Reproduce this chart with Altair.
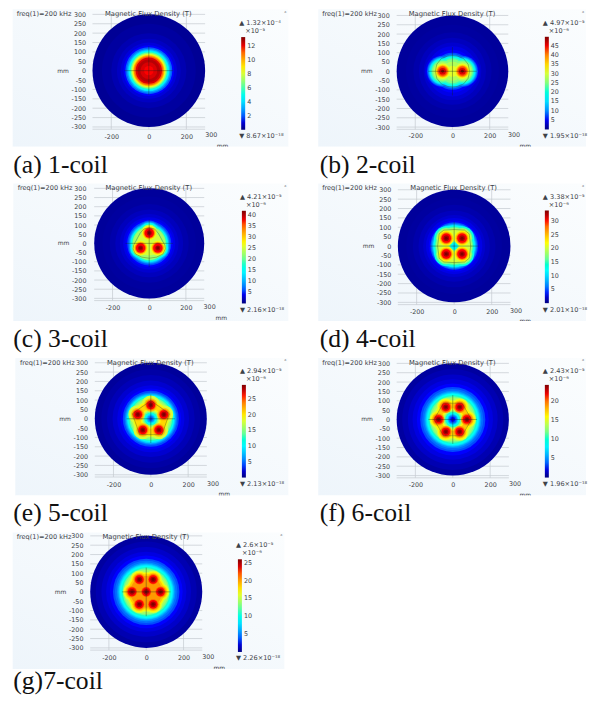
import altair as alt
import pandas as pd

# ---------- readings from the picture ----------
captions = ["(a) 1-coil", "(b) 2-coil", "(c) 3-coil", "(d) 4-coil", "(e) 5-coil", "(f) 6-coil", "(g)7-coil"]
max_vals = [13.2, 49.7, 42.1, 33.8, 29.4, 24.3, 26.0]
top_text = ["1.32×10⁻⁴", "4.97×10⁻⁵", "4.21×10⁻⁵", "3.38×10⁻⁵", "2.94×10⁻⁵", "2.43×10⁻⁵", "2.6×10⁻⁵"]
low_text = ["8.67×10⁻¹⁸", "1.95×10⁻¹⁸", "2.16×10⁻¹⁸", "2.01×10⁻¹⁸", "2.13×10⁻¹⁸", "1.96×10⁻¹⁸", "2.26×10⁻¹⁸"]
unit_text = ["×10⁻⁵", "×10⁻⁶", "×10⁻⁶", "×10⁻⁶", "×10⁻⁶", "×10⁻⁶", "×10⁻⁶"]
bar_ticks = [
    [2, 4, 6, 8, 10, 12],
    [5, 10, 15, 20, 25, 30, 35, 40, 45],
    [5, 10, 15, 20, 25, 30, 35, 40],
    [5, 10, 15, 20, 25, 30],
    [5, 10, 15, 20, 25],
    [5, 10, 15, 20],
    [5, 10, 15, 20, 25],
]
coils = [
    [(0, 0)],
    [(-53, 0), (53, 0)],
    [(0, 57), (-47, -25), (47, -25)],
    [(-42, 42), (42, 42), (-42, -42), (42, -42)],
    [(0, 74), (70, 23), (43, -60), (-43, -60), (-70, 23)],
    [(-76, 0), (76, 0), (-37, 66), (37, 66), (-37, -66), (37, -66)],
    [(-76, 0), (76, 0), (-37, 66), (37, 66), (-37, -66), (37, -66), (0, 0)],
]
# field level f (share of the colour-bar top) -> radius in mm around the axis
hub_levels = [
    [(.02, 300), (.03, 250), (.045, 200), (.06, 170), (.08, 150), (.11, 135), (.16, 125), (.22, 117), (.3, 110),
     (.36, 105), (.42, 101), (.48, 97), (.54, 93), (.6, 89), (.66, 86), (.72, 83), (.78, 80),
     (.84, 76), (.92, 70), (.95, 60), (.92, 45), (.89, 25)],
    [(.025, 300), (.03, 250), (.04, 210), (.055, 180), (.07, 155), (.09, 135), (.11, 115), (.14, 100), (.18, 92),
     (.22, 88), (.27, 85), (.32, 82), (.38, 78), (.44, 72), (.5, 64), (.56, 52), (.62, 30)],
    [(.025, 300), (.03, 255), (.04, 215), (.055, 185), (.07, 160), (.09, 142), (.11, 130), (.14, 120), (.18, 113),
     (.23, 108), (.29, 104), (.36, 100), (.42, 96), (.48, 92), (.54, 88), (.6, 66)],
    [(.025, 300), (.03, 255), (.04, 220), (.055, 190), (.07, 165), (.09, 150), (.11, 136), (.14, 127), (.18, 122),
     (.23, 118), (.29, 114), (.36, 110), (.42, 105), (.48, 100), (.54, 95), (.6, 88)],
    [(.025, 300), (.035, 265), (.05, 235), (.07, 205), (.09, 180), (.11, 162), (.14, 150), (.18, 141), (.23, 135),
     (.29, 130), (.36, 125), (.42, 120), (.48, 114), (.54, 107), (.6, 99), (.66, 92), (.7, 85)],
    [(.03, 300), (.045, 270), (.065, 240), (.085, 215), (.11, 192), (.14, 174), (.17, 163), (.21, 153), (.26, 147),
     (.31, 142), (.36, 137), (.42, 131), (.48, 124), (.54, 117), (.6, 106), (.66, 98), (.72, 85)],
    [(.03, 300), (.045, 270), (.065, 240), (.085, 215), (.11, 195), (.14, 178), (.17, 167), (.21, 157), (.26, 150),
     (.31, 145), (.36, 140), (.42, 133), (.48, 126), (.54, 119), (.6, 108), (.66, 102), (.72, 95), (.78, 85)],
]
# the same, for circles around each coil centre
coil_levels = [
    [],
    [(.09, 95), (.11, 88), (.14, 84), (.18, 80), (.22, 76), (.27, 73), (.32, 70), (.38, 66), (.44, 62), (.5, 57),
     (.56, 50), (.62, 42), (.68, 36), (.74, 32), (.8, 29), (.86, 25), (.92, 18), (1, 8)],
    [(.11, 72), (.14, 68), (.18, 64), (.23, 60), (.29, 57), (.36, 54), (.42, 50), (.48, 46), (.54, 44), (.6, 42),
     (.66, 38), (.72, 34), (.78, 31), (.84, 28), (.89, 25), (.96, 14), (1, 8)],
    [(.36, 64), (.42, 60), (.48, 55), (.54, 51), (.6, 46), (.66, 40), (.72, 35), (.78, 31), (.84, 28), (.89, 25),
     (.96, 15), (1, 8)],
    [(.6, 50), (.72, 36), (.78, 30), (.84, 26), (.89, 23), (.96, 14), (1, 8)],
    [(.6, 48), (.66, 42), (.72, 36), (.76, 32), (.8, 29), (.84, 26), (.89, 22), (.96, 14), (1, 8)],
    [(.6, 48), (.66, 42), (.72, 37), (.78, 31), (.84, 27), (.89, 23), (.96, 15), (1, 8)],
]
# the low-field hollow at the axis: f, radius; drawn once lobes up to hole_after are down
hole_levels = [
    [], [], [],
    [(.55, 30), (.45, 24), (.38, 18), (.32, 12), (.3, 6)],
    [(.66, 55), (.6, 49), (.54, 44), (.48, 39), (.42, 34), (.36, 30), (.3, 25), (.22, 19), (.16, 13), (.13, 7)],
    [(.66, 60), (.6, 54), (.54, 49), (.48, 44), (.42, 40), (.36, 35), (.28, 29), (.2, 24), (.15, 19), (.11, 13), (.09, 7)],
    [],
]
hole_after = [0, 0, 0, .6, .7, .72, 0]
outlines = [
    [],
    [(-92, 0), (-84, 38), (-60, 68), (-25, 82), (0, 84), (25, 82), (60, 68), (84, 38), (92, 0), (84, -38), (60, -68),
     (25, -82), (0, -84), (-25, -82), (-60, -68), (-84, -38), (-92, 0)],
    [(0, 85), (30, 78), (50, 55), (85, -10), (88, -30), (75, -58), (40, -75), (0, -81), (-40, -75), (-75, -58),
     (-88, -30), (-85, -10), (-50, 55), (-30, 78), (0, 85)],
    [(0, 88), (55, 85), (80, 65), (88, 0), (80, -65), (55, -85), (0, -88), (-55, -85), (-80, -65), (-88, 0), (-80, 65),
     (-55, 85), (0, 88)],
    [(0, 97), (99, 27), (60, -85), (-60, -85), (-99, 27), (0, 97)],
    [(-100, 0), (-50, 87), (50, 87), (100, 0), (50, -87), (-50, -87), (-100, 0)],
    [],
]
y_ticks = [300, 250, 200, 150, 100, 50, 0, -50, -100, -150, -200, -250, -300]
x_ticks = [-200, 0, 200]
bottom_line = [-312]

# ---------- layout, page pixels ----------
disc_cx = [149.3, 454, 149.7, 455.7, 151.3, 454.3, 146.7]
disc_cy = [69.7, 70.3, 243, 245.7, 419, 419.7, 592.7]
disc_r = [56.5, 56, 55.2, 56.5, 56.2, 56.3, 56.2]
bar_x = [242, 546.7, 242.7, 546.7, 242.7, 546.7, 238.7]
bar_top = [36, 35.7, 210.3, 210, 385, 385, 560]
tile_x = [(12.7, 289.3), (319.3, 588), (13.3, 289.3), (319.3, 588), (15.3, 289.3), (319.3, 588), (12.7, 285.3)]
tile_y = [(4, 146), (4, 146), (178.3, 321), (178.3, 321), (353.3, 496), (353.3, 496), (528.3, 670)]
head_y = [9.7, 10, 184, 184, 358.7, 359, 534]
freq_x = [16.7, 323.3, 17.7, 323.3, 20, 323.3, 16.7]
xlab_y = [136.7, 135.7, 308.3, 312.7, 486, 486.3, 660]
t300 = [(212, 134.7), (515.7, 134), (210.3, 307), (517.7, 311), (213.7, 484.3), (516.7, 484.7), (209, 658.3)]
tmm = [(223.3, 145.3), (527, 145), (222, 317.7), (527, 321), (225, 494.5), (527, 495), (220, 668.7)]
cap_x = [13.3, 320.7, 13.3, 320.7, 13.3, 320.7, 13.3]
cap_y = [172.7, 172.7, 346.7, 346.7, 521.7, 521.7, 690.5]

stops = [0, .11, .35, .5, .65, .89, 1]
jet = ["#00007f", "#0000ff", "#00ffff", "#7fff7f", "#ffff00", "#ff0000", "#7f0000"]
TW, TH = 272, 139
GAP = 36
SANS = "DejaVu Sans"
INK = "#3d4248"
GRID = "#c4cad0"


def panel(i):
    ox = 8 if i % 2 == 0 else 316
    oy = 8 + 175 * (i // 2)
    px = lambda v: v - ox
    py = lambda v: max(v - oy, 0)
    cx, cy, R = px(disc_cx[i]), disc_cy[i] - oy, disc_r[i]
    top = max_vals[i]

    # build rows for the field: hub and coil circles in rising order
    rows = [("hub", f, r) for f, r in hub_levels[i]] + [("coil", f, r) for f, r in coil_levels[i]]
    if i > 0:
        rows.sort(key=lambda t: t[1])
    ordered = []
    holes_done = not hole_levels[i]
    for kind, f, r in rows:
        if not holes_done and f > hole_after[i]:
            ordered += [("hub", hf, hr) for hf, hr in hole_levels[i]]
            holes_done = True
        ordered.append((kind, f, r))
    recs = []
    for kind, f, r in ordered:
        centres = [(0, 0)] if kind == "hub" else coils[i]
        for x0, y0 in centres:
            recs.append({"x": x0, "y": y0, "area": r * r, "v": f * top, "seq": len(recs)})
    field = pd.DataFrame(recs)

    xs = alt.Scale(domain=[-300, 300], range=[cx - R, cx + R])
    ys = alt.Scale(domain=[-300, 300], range=[cy + R, cy - R])
    x_off = (xlab_y[i] - oy - 6) - TH
    y_off = -(cx - 63.5 + 2)
    xenc = alt.X("x:Q", scale=xs, title=None,
                 axis=alt.Axis(values=x_ticks, domain=False, ticks=False, grid=False, labelPadding=2, offset=x_off,
                               labelFontSize=6.4, labelFont=SANS, labelColor=INK, zindex=1,
                               labelExpr="datum.value+''", labelOverlap=False, labelFlush=False))
    yenc = alt.Y("y:Q", scale=ys, title=None,
                 axis=alt.Axis(values=y_ticks, domain=False, ticks=False, grid=False, labelPadding=2, offset=y_off,
                               labelFontSize=6.4, labelFont=SANS, labelColor=INK, zindex=1,
                               labelExpr="datum.value+''", labelOverlap=False, labelFlush=False))

    one = pd.DataFrame({"a": [0]})
    tx0, tx1 = px(tile_x[i][0]), px(tile_x[i][1])
    ty0, ty1 = py(tile_y[i][0]), tile_y[i][1] - oy
    grad = alt.LinearGradient(gradient="linear", x1=1, y1=0, x2=0, y2=1,
                              stops=[alt.GradientStop(color="#fbfdfe", offset=0),
                                     alt.GradientStop(color="#eef5fb", offset=1)])
    bg = alt.Chart(one).mark_rect(color=grad).encode(
        x=alt.value(tx0), x2=alt.value(tx1), y=alt.value(ty0), y2=alt.value(ty1))

    hgrid = alt.Chart(pd.DataFrame({"y": y_ticks + bottom_line, "x": -300, "x2": 300})).mark_rule(
        color=GRID, strokeWidth=0.7).encode(x=xenc, x2="x2:Q", y=yenc)
    vgrid = alt.Chart(pd.DataFrame({"x": x_ticks, "y": 300, "y2": -312})).mark_rule(
        color=GRID, strokeWidth=0.7).encode(x=xenc, y=yenc, y2="y2:Q")

    disc = alt.Chart(field).mark_circle(opacity=1, strokeWidth=0).encode(
        x=xenc, y=yenc,
        size=alt.Size("area:Q", legend=None,
                      scale=alt.Scale(domain=[0, 90000], range=[0, (2 * R) ** 2])),
        order=alt.Order("seq:Q"),
        color=alt.Color("v:Q", scale=alt.Scale(domain=[s * top for s in stops], range=jet),
                        legend=alt.Legend(orient="none", legendX=px(bar_x[i]), legendY=bar_top[i] - oy,
                                          title=None, gradientLength=93, gradientThickness=4,
                                          values=bar_ticks[i], labelFontSize=6.4, labelFont=SANS, labelColor=INK,
                                          labelOffset=2, labelOverlap=False, gradientStrokeWidth=0,
                                          direction="vertical", tickCount=len(bar_ticks[i]))),
    )
    cross_h = alt.Chart(pd.DataFrame({"y": [0], "x": [-130], "x2": [130]})).mark_rule(
        color="#10241c", strokeWidth=0.6, opacity=0.6).encode(x=xenc, x2="x2:Q", y=yenc)
    cross_v = alt.Chart(pd.DataFrame({"x": [0], "y": [130], "y2": [-130]})).mark_rule(
        color="#10241c", strokeWidth=0.6, opacity=0.6).encode(x=xenc, y=yenc, y2="y2:Q")
    layers = [bg, hgrid, vgrid, disc, cross_h, cross_v]

    if outlines[i]:
        ol = pd.DataFrame([{"x": a, "y": b, "k": n} for n, (a, b) in enumerate(outlines[i])])
        layers.append(alt.Chart(ol).mark_line(color="#2f4a22", strokeWidth=0.7, opacity=0.5).encode(
            x=xenc, y=yenc, order="k:Q"))

    def label(txt, x, y, size=6.6, align="left", font=SANS, color=INK, baseline="middle"):
        return alt.Chart(one).mark_text(text=txt, fontSize=size, align=align, font=font, color=color,
                                        baseline=baseline).encode(x=alt.value(x), y=alt.value(y))

    hy = max(head_y[i] - oy, 4.8)
    layers += [
        label("freq(1)=200 kHz", px(freq_x[i]), hy),
        label("Magnetic Flux Density  (T)", cx - 0.5, hy, align="center", size=6.8),
        label("mm", cx - 86, cy, align="center", size=6),
        label("300", px(t300[i][0]), t300[i][1] - oy, align="center", size=6.4),
        label("▲ " + top_text[i], px(bar_x[i]) - 2, bar_top[i] - oy - 14, size=6.6),
        label(unit_text[i], px(bar_x[i]) + 4, bar_top[i] - oy - 6, size=6.6),
        label("▼ " + low_text[i], px(bar_x[i]) - 2, bar_top[i] - oy + 99.5, size=6.6),
        label("mm", px(tmm[i][0]), tmm[i][1] - oy, align="center", size=6),
        label("a", tx1 - 3, max(ty0 + 2.5, 2.5), align="center", size=3.5, color="#8a8f95"),
    ]
    mask = alt.Chart(one).mark_rect(color="#ffffff").encode(
        x=alt.value(tx0), x2=alt.value(tx1), y=alt.value(ty1), y2=alt.value(ty1 + 5))
    layers.append(mask)
    layers.append(label(captions[i], px(cap_x[i]), cap_y[i] - oy, size=25.7, font="Liberation Serif",
                        color="#111111", baseline="alphabetic"))

    return alt.layer(*layers).properties(width=TW, height=TH).resolve_scale(color="independent")


chart = (
    alt.concat(*[panel(i) for i in range(7)], columns=2, spacing=GAP, bounds="flush")
    .resolve_scale(color="independent", x="independent", y="independent", size="independent")
    .properties(padding=0, background="#ffffff")
    .configure_view(stroke=None)
)
chart.save("out.html", embed_options={"renderer": "svg", "actions": False})
